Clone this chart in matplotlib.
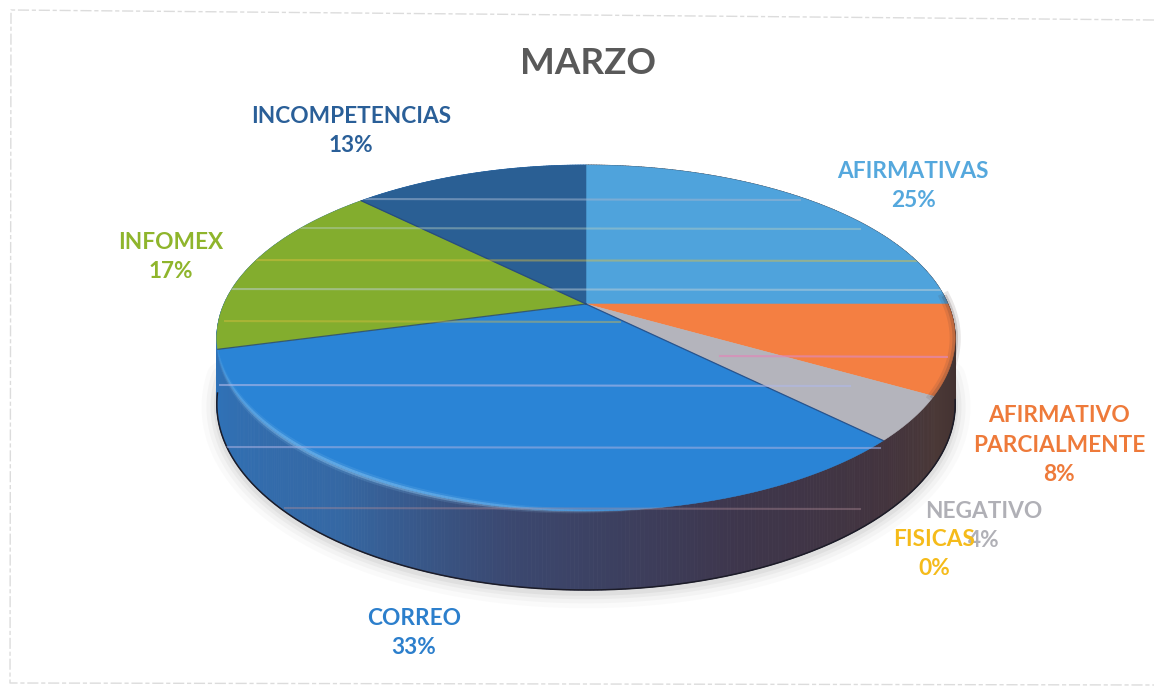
import numpy as np
import matplotlib
matplotlib.use("Agg")
import matplotlib.pyplot as plt
from matplotlib.collections import PolyCollection, LineCollection
from matplotlib.colors import to_rgb
from matplotlib.patches import Polygon

# ---- data ----
title = "MARZO"
categories = ["AFIRMATIVAS", "AFIRMATIVO\nPARCIALMENTE", "NEGATIVO", "FISICAS",
              "CORREO", "INFOMEX", "INCOMPETENCIAS"]
values = [6, 2, 1, 0, 8, 4, 3]

# ---- styles ----
face_colors = ["#4fa3dc", "#f47f42", "#b4b4bc", "#f5b915", "#2a84d6", "#83ad2e", "#2a5f94"]
text_colors = ["#55a8dd", "#ee7a3a", "#b0b0b6", "#f5bb1a", "#2c7fcc", "#8fb52c", "#2a5f98"]
label_pos = [(913, 186), (1059, 445), (984, 526), (934, 554), (414, 633), (171, 257), (351, 131)]
side_angles = [0, 90, 119, 135, 160, 190, 215, 255, 360]
side_cols = ["#3a2a2a", "#3a2a2a", "#4a3836", "#43343e", "#3e364c", "#3b4870",
             "#3568a4", "#2f72b8", "#2f72b8"]
stripes = [(199, 364, 800, "#9fb4d0", .55), (228, 300, 860, "#b7cfc0", .45),
           (260, 240, 920, "#e0c040", .45), (289, 220, 940, "#c0d0d8", .5),
           (321, 215, 620, "#e0c040", .4), (356, 720, 960, "#e088b8", .7),
           (385, 220, 850, "#b0b8e8", .6), (447, 225, 880, "#a8b0e0", .55),
           (508, 285, 860, "#b08c98", .4)]

CX, CY, RX, SY, K, DEPTH = 586, 304, 362, 166.3, 0.1965, 63.5


def proj(theta_deg):
    """Unit circle (clockwise from 12 o'clock) to the page, in perspective."""
    t = np.radians(theta_deg)
    u, v = np.sin(t), np.cos(t)
    d = 1 + K * v
    return CX + RX * u / d, CY - SY * v / d, DEPTH / d


plt.rcParams["font.family"] = ["Lato", "DejaVu Sans"]
fig = plt.figure(figsize=(11.54, 6.86), dpi=100, facecolor="white")
ax = fig.add_axes([0, 0, 1, 1])
ax.set_xlim(0, 1154)
ax.set_ylim(686, 0)
ax.axis("off")

# faint frame of the scanned chart (no right side)
ax.plot([1154, 11, 10, 1154], [20, 10, 683, 685], color="#dcdcdc", lw=1.0,
        ls=(0, (8, 2, 3, 2)), zorder=1)

# soft shadow under the pie
th_all = np.linspace(92, 268, 300)
x, y, dep = proj(th_all)
for w, a in [(22, .035), (15, .05), (9, .07), (4, .10)]:
    ax.plot(x, y + dep + 3, color="#808080", lw=w, alpha=a, zorder=2, solid_capstyle="round")

# side wall
th = np.linspace(0, 360, 721)
x, y, dep = proj(th)
rgb = np.array([to_rgb(c) for c in side_cols])
cols = []
quads = []
for i in range(len(th) - 1):
    mid = (th[i] + th[i + 1]) / 2
    cols.append([np.interp(mid, side_angles, rgb[:, c]) for c in range(3)])
    quads.append([(x[i], y[i]), (x[i + 1], y[i + 1]),
                  (x[i + 1], y[i + 1] + dep[i + 1]), (x[i], y[i] + dep[i])])
ax.add_collection(PolyCollection(quads, facecolors=cols, edgecolors=cols, linewidths=0.6, zorder=3))

# dark line on the bottom rim
xb, yb, db = proj(np.linspace(100, 262, 300))
ax.plot(xb, yb + db, color="#1c1c28", lw=1.1, zorder=4)

# top face, one wedge per value
fractions = np.cumsum([0] + values) / np.sum(values) * 360
for start, end, col in zip(fractions[:-1], fractions[1:], face_colors):
    if end <= start:
        continue
    a = np.linspace(start, end, 200)
    xa, ya, _ = proj(a)
    ax.fill(np.r_[CX, xa], np.r_[CY, ya], color=col, lw=0.4, zorder=5)

# thin dark seams between wedges
for f in fractions[[4, 5, 6]]:
    xa, ya, _ = proj(f)
    ax.plot([CX, xa], [CY, ya], color="#23457a", lw=0.9, alpha=.8, zorder=6)

# highlight on the front rim
ah = np.linspace(168, 258, 160)
xh, yh, _ = proj(ah)
segs = [[(xh[i], yh[i]), (xh[i + 1], yh[i + 1])] for i in range(len(ah) - 1)]
prof = np.sin(np.linspace(0, np.pi, len(segs))) ** 0.7
for w, am in [(6, .16), (3, .45)]:
    ax.add_collection(LineCollection(segs, colors=[(.55, .78, .95, am * p) for p in prof],
                                     linewidths=w * prof + .3, zorder=7))

# shaded rim of the grey wedge
as_ = np.linspace(fractions[1] - 2, fractions[2], 40)
xs, ys, _ = proj(as_)
for w, al in [(8, .12), (4, .2)]:
    ax.plot(xs, ys, color="#4a3a3a", lw=w, alpha=al, zorder=7)

# scanner stripes, limited to the pie
a1 = np.linspace(90, 270, 200)
a2 = np.linspace(270, 450, 200)
x1, y1, d1 = proj(a1)
x2, y2, _ = proj(a2)
clip = Polygon(np.c_[np.r_[x1, x2], np.r_[y1 + d1, y2]], closed=True, transform=ax.transData,
               fc="none", ec="none")
ax.add_patch(clip)
for yy, x0, x9, c, al in stripes:
    ln, = ax.plot([x0, x9], [yy, yy + 1], color=c, lw=1.5, alpha=al, zorder=8)
    ln.set_clip_path(clip)

# labels
pct = [v / sum(values) * 100 for v in values]
for name, p, pos, c in zip(categories, pct, label_pos, text_colors):
    ax.text(pos[0], pos[1], f"{name}\n{int(p + 0.5)}%", color=c, fontsize=16.3, fontweight="bold",
            ha="center", va="center", linespacing=1.5, zorder=10)

ax.text(588, 63, title, color="#595959", fontsize=26.5, fontweight="bold",
        ha="center", va="center", zorder=10)

fig.savefig("out.png", dpi=100)
